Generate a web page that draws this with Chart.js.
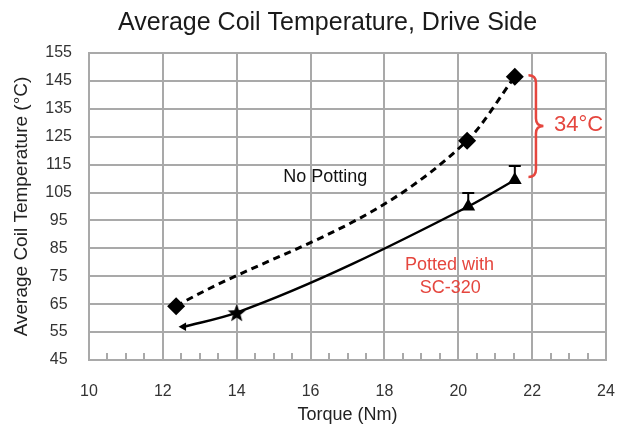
<!DOCTYPE html>
<html>
<head>
<meta charset="utf-8">
<script src="https://cdn.jsdelivr.net/npm/chart.js@4.4.1/dist/chart.umd.min.js"></script>
<style>
  html, body { margin: 0; padding: 0; background: #fff; }
  canvas { display: block; }
</style>
</head>
<body>
<canvas id="chart" width="619" height="428"></canvas>
<script>
// values
const noPottingTorque = [12.36, 20.24, 21.53];
const noPottingTemp = [64.3, 123.6, 146.5];

const pottedTorque = [12.56, 14.0, 20.27, 21.53];
const pottedTemp = [56.9, 62.0, 100.0, 109.5];
const pottedError = [0, 0, 4.8, 5.0];

const xTicks = [10, 12, 14, 16, 18, 20, 22, 24];
const yTicks = [45, 55, 65, 75, 85, 95, 105, 115, 125, 135, 145, 155];
const minorXTicks = [10.5, 11, 11.5, 12.5, 13, 13.5, 14.5, 15, 15.5, 16.5, 17, 17.5,
  18.5, 19, 19.5, 20.5, 21, 21.5, 22.5, 23, 23.5];

const gapTop = 147;
const gapBottom = 110.6;
const gapLabel = "34°C";

const FONT = '"Liberation Sans", Arial, sans-serif';
const GRID = "#a9a9a9";
const RED = "#e5463e";

function makeStar(size) {
  const c = document.createElement("canvas");
  c.width = size;
  c.height = size;
  const g = c.getContext("2d");
  const cx = size / 2;
  const cy = size / 2 + 1;
  const outer = size / 2;
  const inner = outer * 0.42;
  g.beginPath();
  for (let k = 0; k < 10; k++) {
    const a = -Math.PI / 2 + k * Math.PI / 5;
    const r = k % 2 ? inner : outer;
    g.lineTo(cx + r * Math.cos(a), cy + r * Math.sin(a));
  }
  g.closePath();
  g.fillStyle = "#000";
  g.fill();
  return c;
}

const star = makeStar(19);

const extras = {
  id: "extras",
  beforeDatasetsDraw(chart) {
    const { ctx, scales: { x, y } } = chart;
    const bottom = y.getPixelForValue(45);
    ctx.save();
    ctx.strokeStyle = GRID;
    ctx.lineWidth = 2;
    minorXTicks.forEach((v) => {
      const px = Math.round(x.getPixelForValue(v));
      ctx.beginPath();
      ctx.moveTo(px, bottom);
      ctx.lineTo(px, bottom - 7);
      ctx.stroke();
    });
    ctx.restore();
  },
  afterDatasetsDraw(chart) {
    const { ctx, scales: { x, y } } = chart;
    ctx.save();

    // error whiskers
    ctx.strokeStyle = "#000";
    ctx.lineWidth = 2;
    pottedError.forEach((e, i) => {
      if (!e) {
        return;
      }
      const px = x.getPixelForValue(pottedTorque[i]);
      const y0 = y.getPixelForValue(pottedTemp[i]);
      const y1 = y.getPixelForValue(pottedTemp[i] + e);
      ctx.beginPath();
      ctx.moveTo(px, y0);
      ctx.lineTo(px, y1);
      ctx.moveTo(px - 6, y1);
      ctx.lineTo(px + 6, y1);
      ctx.stroke();
    });

    // brace
    const bx = x.getPixelForValue(21.9);
    const yt = y.getPixelForValue(gapTop);
    const yb = y.getPixelForValue(gapBottom);
    const ym = (yt + yb) / 2;
    const w = 7.5;
    ctx.strokeStyle = RED;
    ctx.lineWidth = 2.5;
    ctx.beginPath();
    ctx.moveTo(bx, yt);
    ctx.quadraticCurveTo(bx + w, yt, bx + w, yt + w);
    ctx.lineTo(bx + w, ym - w);
    ctx.quadraticCurveTo(bx + w, ym, bx + 2 * w, ym);
    ctx.quadraticCurveTo(bx + w, ym, bx + w, ym + w);
    ctx.lineTo(bx + w, yb - w);
    ctx.quadraticCurveTo(bx + w, yb, bx, yb);
    ctx.stroke();

    // labels
    ctx.textBaseline = "middle";
    ctx.fillStyle = RED;
    ctx.font = `22px ${FONT}`;
    ctx.textAlign = "left";
    ctx.fillText(gapLabel, x.getPixelForValue(22.59), y.getPixelForValue(129.2));

    ctx.font = `18px ${FONT}`;
    ctx.textAlign = "center";
    ctx.fillText("Potted with", x.getPixelForValue(19.76), y.getPixelForValue(78.9));
    ctx.fillText("SC-320", x.getPixelForValue(19.78), y.getPixelForValue(70.7));

    ctx.fillStyle = "#111";
    ctx.fillText("No Potting", x.getPixelForValue(16.4), y.getPixelForValue(110.6));
    ctx.restore();
  },
  afterDraw(chart) {
    const { ctx } = chart;
    ctx.save();
    ctx.fillStyle = "#1a1a1a";
    ctx.font = `25px ${FONT}`;
    ctx.textAlign = "left";
    ctx.textBaseline = "alphabetic";
    ctx.fillText("Average Coil Temperature, Drive Side", 118, 30);
    ctx.restore();
  }
};

new Chart(document.getElementById("chart"), {
  type: "line",
  data: {
    datasets: [
      {
        label: "No Potting",
        data: noPottingTorque.map((t, i) => ({ x: t, y: noPottingTemp[i] })),
        borderColor: "#000",
        borderWidth: 3,
        borderDash: [7, 5],
        cubicInterpolationMode: "monotone",
        pointStyle: "rectRot",
        pointRadius: 9,
        pointBackgroundColor: "#000",
        pointBorderWidth: 0
      },
      {
        label: "Potted with SC-320",
        data: pottedTorque.map((t, i) => ({ x: t, y: pottedTemp[i] })),
        borderColor: "#000",
        borderWidth: 2.5,
        cubicInterpolationMode: "monotone",
        pointStyle: ["triangle", star, "triangle", "triangle"],
        pointRotation: [-90, 0, 0, 0],
        pointRadius: [5, 9, 8, 8],
        pointBackgroundColor: "#000",
        pointBorderColor: "#000",
        pointBorderWidth: 0
      }
    ]
  },
  options: {
    responsive: false,
    animation: false,
    devicePixelRatio: 1,
    layout: { padding: { top: 53, right: 13, bottom: 0, left: 0 } },
    plugins: {
      legend: { display: false },
      title: { display: false },
      tooltip: { enabled: false }
    },
    scales: {
      x: {
        type: "linear",
        min: 10,
        max: 24,
        afterBuildTicks: (s) => { s.ticks = xTicks.map((v) => ({ value: v })); },
        afterFit: (s) => {
          s.height = 68;
          s.paddingLeft = 0;
          s.paddingRight = 0;
        },
        grid: { color: GRID, lineWidth: 2, drawTicks: false },
        border: { color: GRID, width: 2 },
        ticks: { padding: 22, color: "#333", font: { family: FONT, size: 16 } },
        title: {
          display: true,
          text: "Torque (Nm)",
          color: "#222",
          font: { family: FONT, size: 18 },
          padding: { top: 0, bottom: 2 }
        }
      },
      y: {
        type: "linear",
        min: 45,
        max: 155,
        afterBuildTicks: (s) => { s.ticks = yTicks.map((v) => ({ value: v })); },
        afterFit: (s) => {
          s.width = 89;
          s.paddingTop = 0;
          s.paddingBottom = 0;
        },
        grid: { color: GRID, lineWidth: 2, drawTicks: false },
        border: { color: GRID, width: 2 },
        ticks: { padding: 17, crossAlign: "center", color: "#333", font: { family: FONT, size: 16 } },
        title: {
          display: true,
          text: "Average Coil Temperature (°C)",
          color: "#222",
          font: { family: FONT, size: 19 },
          padding: { top: 10, bottom: 0 }
        }
      }
    }
  },
  plugins: [extras]
});
</script>
</body>
</html>
